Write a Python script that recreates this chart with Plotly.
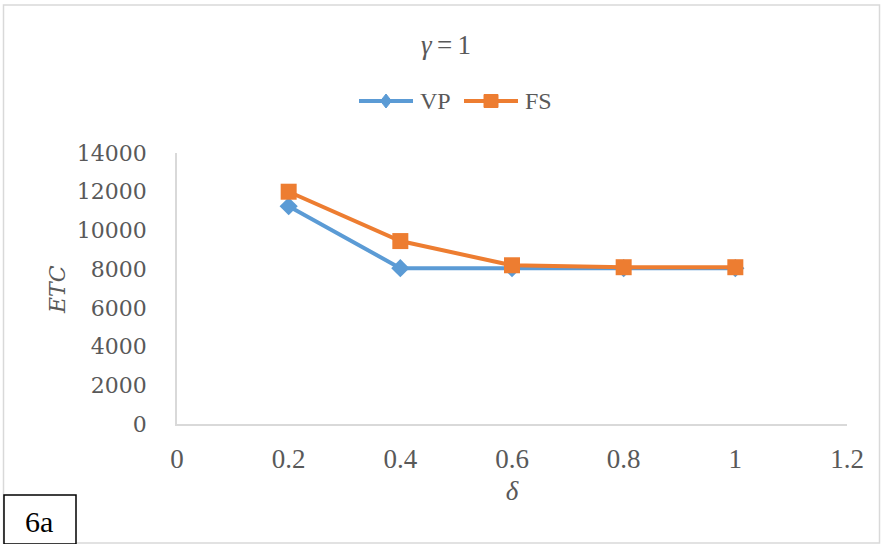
import plotly.graph_objects as go

delta = [0.2, 0.4, 0.6, 0.8, 1.0]
vp = [11250, 8050, 8050, 8050, 8050]
fs = [12000, 9450, 8200, 8100, 8100]
x_ticks = [0, 0.2, 0.4, 0.6, 0.8, 1, 1.2]
x_tick_labels = ["0", "0.2", "0.4", "0.6", "0.8", "1", "1.2"]
y_ticks = [0, 2000, 4000, 6000, 8000, 10000, 12000, 14000]

BLUE, ORANGE, GREY = "#5B9BD5", "#ED7D31", "#595959"

W, H = 883, 544
L, R, T, B = 177, 36, 153, 120
PW, PH = W - L - R, H - T - B

def px(x):
    return (x - L) / PW

def py(y):
    return (H - B - y) / PH

fig = go.Figure()
fig.add_trace(go.Scatter(x=delta, y=vp, name="VP", mode="lines+markers",
                         line=dict(color=BLUE, width=4),
                         marker=dict(symbol="diamond", size=14, color=BLUE)))
fig.add_trace(go.Scatter(x=delta, y=fs, name="FS", mode="lines+markers",
                         line=dict(color=ORANGE, width=4),
                         marker=dict(symbol="square", size=16, color=ORANGE)))

fig.update_layout(
    width=W, height=H,
    margin=dict(l=L, r=R, t=T, b=B),
    paper_bgcolor="white", plot_bgcolor="white",
    showlegend=False,
    title=dict(text="<i>γ</i>\u2009=\u20091", x=px(446), y=1 - 45 / H, xref="paper", yref="container",
               xanchor="center", yanchor="middle",
               font=dict(family="Liberation Serif", size=27, color=GREY)),
    xaxis=dict(range=[0, 1.2], tickvals=x_ticks, ticktext=x_tick_labels,
               showgrid=False, zeroline=False, showline=True, linecolor="#D9D9D9", linewidth=1.5,
               ticks="", ticklabelstandoff=10,
               tickfont=dict(family="Liberation Serif", size=27, color=GREY),
               title=dict(text="<i>δ</i>", standoff=8,
                          font=dict(family="Liberation Serif", size=27, color=GREY))),
    yaxis=dict(range=[0, 14000], tickvals=y_ticks,
               showgrid=False, zeroline=False, showline=True, linecolor="#D9D9D9", linewidth=1.5,
               ticks="", ticklabelstandoff=24, tickformat="d",
               tickfont=dict(family="DejaVu Serif", size=22, color=GREY)),
)

fig.add_annotation(text="<i>ETC</i>", x=px(57), y=py(290), xref="paper", yref="paper",
                   showarrow=False, textangle=-90, xanchor="center", yanchor="middle",
                   font=dict(family="DejaVu Serif", size=22, color=GREY))

# manual legend (Excel-style long line samples)
LEG_Y = 101
legend_items = [("VP", BLUE, "diamond", 359, 413, 418), ("FS", ORANGE, "square", 464, 518, 523)]
for name, col, sym, x0, x1, xt in legend_items:
    fig.add_shape(type="line", xref="paper", yref="paper",
                  x0=px(x0), x1=px(x1), y0=py(LEG_Y), y1=py(LEG_Y),
                  line=dict(color=col, width=4))
    cx = (x0 + x1) / 2
    if sym == "diamond":
        path = (f"M {px(cx)} {py(LEG_Y - 7)} L {px(cx + 5.5)} {py(LEG_Y)} "
                f"L {px(cx)} {py(LEG_Y + 7)} L {px(cx - 5.5)} {py(LEG_Y)} Z")
        fig.add_shape(type="path", xref="paper", yref="paper", path=path,
                      fillcolor=col, line=dict(color=col, width=1))
    else:
        fig.add_shape(type="rect", xref="paper", yref="paper",
                      x0=px(cx - 7), x1=px(cx + 7), y0=py(LEG_Y + 6.5), y1=py(LEG_Y - 6.5),
                      fillcolor=col, line=dict(color=col, width=1))
    fig.add_annotation(text=name, x=px(xt), y=py(LEG_Y), xref="paper", yref="paper",
                       showarrow=False, xanchor="left", yanchor="middle",
                       font=dict(family="Liberation Serif", size=24, color=GREY))

# chart-area border
fig.add_shape(type="rect", xref="paper", yref="paper",
              x0=px(3.5), x1=px(879.5), y0=py(543), y1=py(5),
              line=dict(color="#D9D9D9", width=1.5), fillcolor="rgba(0,0,0,0)", layer="below")
# 6a label box
fig.add_shape(type="rect", xref="paper", yref="paper",
              x0=px(4), x1=px(76), y0=py(544), y1=py(495),
              line=dict(color="black", width=1.5), fillcolor="white")
fig.add_annotation(text="6a", x=px(39), y=py(521), xref="paper", yref="paper",
                   showarrow=False, xanchor="center", yanchor="middle",
                   font=dict(family="Liberation Serif", size=30, color="black"))

fig.write_html("out.html")
